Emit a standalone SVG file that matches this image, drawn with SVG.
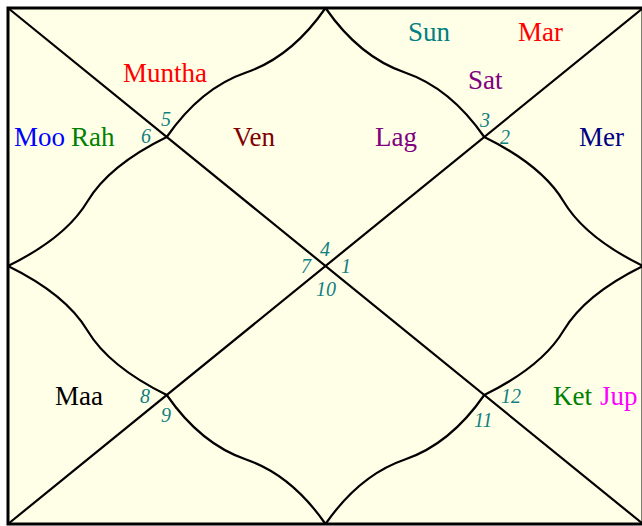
<svg xmlns="http://www.w3.org/2000/svg" width="642" height="526" viewBox="0 0 642 526">
<style>
.frame{fill:#FFFFE8;stroke:#000;stroke-width:3}
.ln{fill:none;stroke:#000;stroke-width:2.2}
.pl{font-family:"Liberation Serif","Times New Roman",serif;font-size:27px}
.num{font-family:"Liberation Serif","Times New Roman",serif;font-size:20px;font-style:italic;fill:#108080}
</style>
<rect width="642" height="526" fill="#FFFFFF"/>
<rect class="frame" x="8" y="8" width="635" height="516"/>
<g id="connectors">
<line class="ln" x1="8" y1="8" x2="643" y2="524"/>
<line class="ln" x1="8" y1="524" x2="643" y2="8"/>
<path class="ln" d="M325.5,8 Q291.5,57 246.1,72.5 T166.75,137"/>
<path class="ln" d="M325.5,8 Q359.5,57 404.9,72.5 T484.25,137"/>
<path class="ln" d="M8,266 Q65.9,237.6 87.4,201.5 T166.75,137"/>
<path class="ln" d="M8,266 Q65.9,294.4 87.4,330.5 T166.75,395"/>
<path class="ln" d="M643,266 Q585.1,237.6 563.6,201.5 T484.25,137"/>
<path class="ln" d="M643,266 Q585.1,294.4 563.6,330.5 T484.25,395"/>
<path class="ln" d="M325.5,524 Q291.5,475 246.1,459.5 T166.75,395"/>
<path class="ln" d="M325.5,524 Q359.5,475 404.9,459.5 T484.25,395"/>
</g>
<g id="house1"><text class="pl" x="375" y="146" fill="#800080">Lag</text><text class="num" x="341" y="273">1</text></g>
<g id="house2"><text class="pl" x="579" y="146" fill="#000080">Mer</text><text class="num" x="500" y="144">2</text></g>
<g id="house3"><text class="pl" x="408" y="41" fill="#008080">Sun</text><text class="pl" x="518" y="41" fill="#FF0000">Mar</text><text class="pl" x="468" y="89" fill="#800080">Sat</text><text class="num" x="480" y="126.5">3</text></g>
<g id="house4"><text class="pl" x="233" y="146" fill="#800000">Ven</text><text class="num" x="320" y="255.5">4</text></g>
<g id="house5"><text class="pl" x="123" y="82" fill="#FF0000">Muntha</text><text class="num" x="161" y="126">5</text></g>
<g id="house6"><text class="pl" x="14" y="146" fill="#0000FF">Moo</text><text class="pl" x="71" y="146" fill="#008000">Rah</text><text class="num" x="141" y="143">6</text></g>
<g id="house7"><text class="num" x="301" y="273">7</text></g>
<g id="house8"><text class="pl" x="55" y="405" fill="#000000">Maa</text><text class="num" x="140" y="402.5">8</text></g>
<g id="house9"><text class="num" x="161" y="422">9</text></g>
<g id="house10"><text class="num" x="316" y="296">10</text></g>
<g id="house11"><text class="num" x="474" y="426.5">11</text></g>
<g id="house12"><text class="pl" x="553" y="405" fill="#008000">Ket</text><text class="pl" x="600" y="405" fill="#FF00FF">Jup</text><text class="num" x="501" y="402.5">12</text></g>
</svg>
